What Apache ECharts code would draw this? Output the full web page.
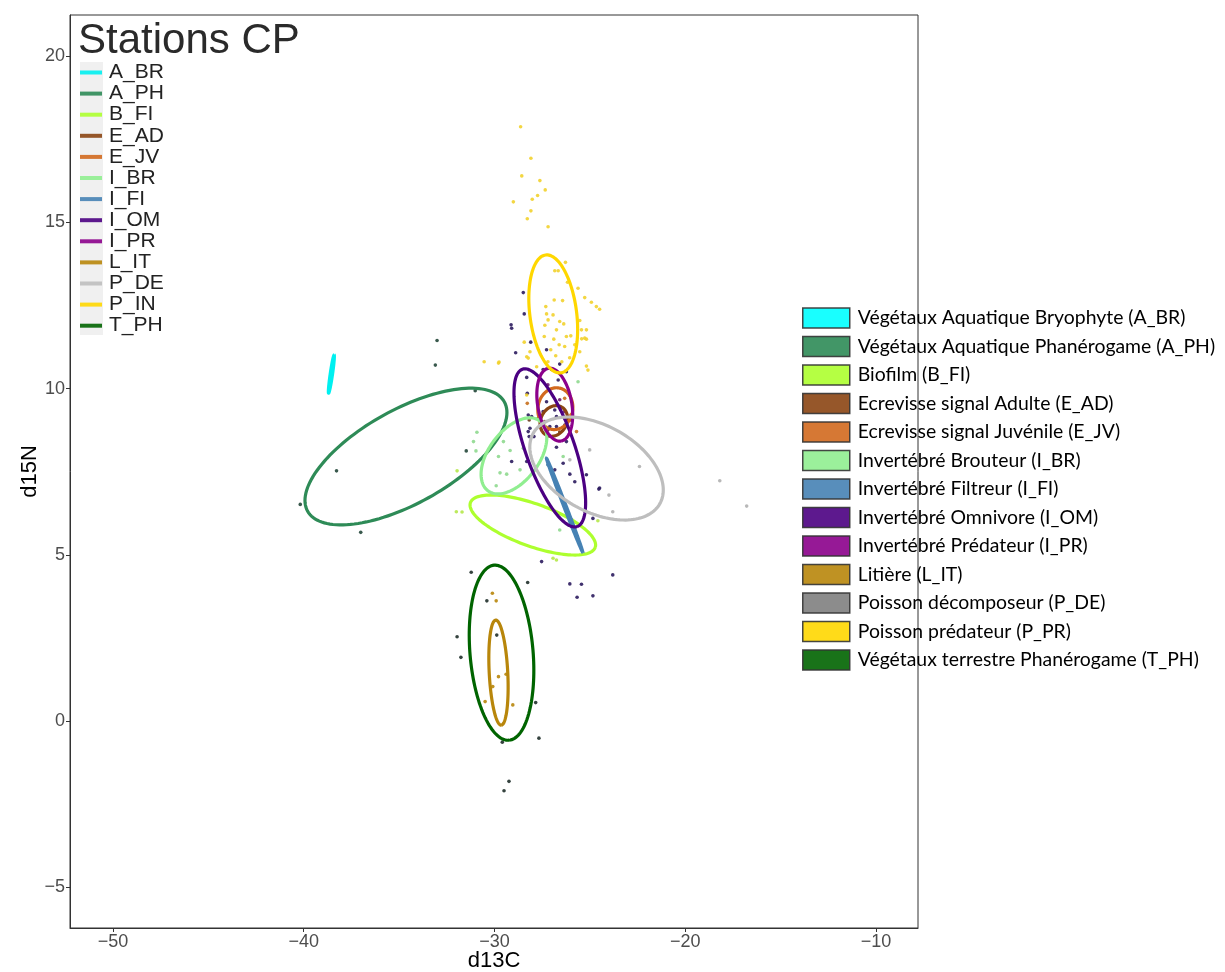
<!DOCTYPE html>
<html><head><meta charset="utf-8">
<script src="https://cdn.jsdelivr.net/npm/echarts@6/dist/echarts.min.js"></script>
<style>html,body{margin:0;padding:0;background:#fff}#c{width:1225px;height:972px}</style>
</head><body><div id="c"></div>
<script>
// ---------- data ----------
const codes = ['A_BR','A_PH','B_FI','E_AD','E_JV','I_BR','I_FI','I_OM','I_PR','L_IT','P_DE','P_IN','T_PH'];
const longLabels = [
  'Végétaux Aquatique Bryophyte (A_BR)',
  'Végétaux Aquatique Phanérogame (A_PH)',
  'Biofilm (B_FI)',
  'Ecrevisse signal Adulte (E_AD)',
  'Ecrevisse signal Juvénile (E_JV)',
  'Invertébré Brouteur (I_BR)',
  'Invertébré Filtreur (I_FI)',
  'Invertébré Omnivore (I_OM)',
  'Invertébré Prédateur (I_PR)',
  'Litière (L_IT)',
  'Poisson décomposeur (P_DE)',
  'Poisson prédateur (P_PR)',
  'Végétaux terrestre Phanérogame (T_PH)'
];
const lineColors  = ['#00F0F0','#2E8B57','#ADFF2F','#8B4513','#D2691E','#90EE90','#4682B4','#4B0082','#8B008B','#B8860B','#BEBEBE','#FFD700','#006400'];
const pointColors = ['#00D0D0','#24473A','#B5E84A','#6B3A1A','#C8701E','#8FD98F','#3A6A94','#2B1B5E','#6A1A6A','#B8860B','#B0B0B0','#F2D22E','#1F2F2A'];
const boxColors   = ['#00FFFF','#2E8B57','#ADFF2F','#8B4513','#D2691E','#90EE90','#4682B4','#4B0082','#8B008B','#B8860B','#808080','#FFD700','#006400'];
const xTicks = [-50,-40,-30,-20,-10];
const yTicks = [-5,0,5,10,15,20];

// standard ellipses (data units): centre, semi-major vector, semi-minor vector
const ellCX = [-38.55,-34.64,-27.99,-26.89,-26.81,-28.98,-26.32,-27.10,-26.84,-29.79,-24.65,-26.92,-29.63];
const ellCY = [ 10.44,  7.96,  5.90,  9.03,  9.40,  7.98,  6.49,  8.22,  9.52,  1.46,  7.60, 12.25,  2.06];
const ellUX = [ 0.146, 5.16,  3.27,  0.417, 0.190, 1.365, 0.955, 1.436, 0.334, 0.144, 3.327, 0.399, 0.391];
const ellUY = [ 0.576, 1.64, -0.674, 0.417, 0.622, 1.049,-1.420,-2.366,-1.093,-1.580,-1.050,-1.772,-2.632];
const ellVX = [ 0.06, -1.18,  0.373,-0.587,-0.899,-1.051, 0.06,  1.211, 0.879, 0.485, 1.082, 1.216, 1.647];
const ellVY = [-0.01,  1.24,  0.600, 0.196, 0.091, 0.455, 0.013, 0.245, 0.089, 0.015, 1.140, 0.091, 0.0815];

// sample points (d13C, d15N)
const pts_A_BR = [[-38.50,10.60],[-38.62,10.20]];
const pts_A_PH = [[-31.01,9.94],[-31.48,8.13],[-38.28,7.53],[-40.18,6.52],[-37.01,5.68],[-33.01,11.45],[-33.10,10.71]];
const pts_B_FI = [[-31.96,7.53],[-32.00,6.30],[-31.70,6.29],[-26.93,4.90],[-26.75,4.85],[-24.58,6.03]];
const pts_E_AD = [[-28.18,9.06],[-27.71,9.11],[-27.20,8.76],[-26.58,8.70],[-27.36,9.01],[-25.98,9.06]];
const pts_E_JV = [[-28.28,9.56],[-26.32,9.71],[-25.70,8.71],[-27.62,9.06],[-26.00,9.21]];
const pts_I_BR = [[-30.92,8.69],[-31.10,8.41],[-30.97,8.13],[-29.79,7.96],[-29.18,8.14],[-29.71,7.47],[-29.36,7.43],[-28.66,7.56],[-29.91,7.08],[-29.53,8.41],[-28.49,8.21],[-26.40,7.96],[-25.62,10.21],[-26.58,5.75]];
const pts_I_FI = [[-27.20,7.71],[-25.95,6.06]];
const pts_I_OM = [[-29.10,11.82],[-28.44,12.25],[-28.89,11.08],[-28.49,12.89],[-29.13,11.92],[-28.10,11.40],[-27.27,11.17],[-26.58,10.74],[-26.23,10.51],[-27.01,10.58],[-27.45,10.58],[-28.31,10.34],[-26.66,10.26],[-28.28,9.86],[-27.27,9.61],[-26.84,9.36],[-26.75,9.16],[-27.45,9.31],[-28.05,9.16],[-28.14,8.81],[-27.93,8.56],[-27.10,8.86],[-26.75,8.86],[-26.31,8.91],[-26.23,8.41],[-26.75,8.24],[-28.23,9.21],[-28.23,8.71],[-28.18,8.56],[-29.10,7.81],[-28.31,7.81],[-26.84,7.56],[-26.05,7.43],[-26.40,7.76],[-25.18,7.41],[-25.79,7.20],[-24.53,6.98],[-24.84,6.10],[-27.53,4.80],[-26.05,4.13],[-25.44,4.12],[-25.67,3.73],[-24.84,3.77],[-23.80,4.40],[-24.49,7.01]];
const pts_I_PR = [[-27.10,9.97],[-26.58,9.67],[-27.20,10.12],[-26.32,9.31]];
const pts_L_IT = [[-30.11,3.85],[-29.91,3.62],[-29.79,1.34],[-29.39,1.41],[-30.49,0.59],[-29.04,0.49],[-30.09,1.04]];
const pts_P_DE = [[-22.40,7.66],[-24.00,6.80],[-23.80,6.30],[-18.19,7.23],[-16.78,6.47],[-26.05,7.86],[-25.01,8.16]];
const pts_P_IN = [[-28.63,17.88],[-28.09,16.93],[-28.57,16.40],[-27.62,16.26],[-27.34,15.98],[-27.74,15.81],[-29.01,15.62],[-28.02,15.70],[-28.09,15.35],[-28.28,15.11],[-27.19,14.87],[-26.28,13.80],[-26.84,13.55],[-26.66,13.55],[-26.17,13.20],[-25.62,13.02],[-25.27,12.74],[-24.92,12.60],[-24.49,12.39],[-26.87,12.67],[-26.43,12.65],[-27.31,12.47],[-27.27,12.25],[-26.93,12.22],[-27.19,12.07],[-26.58,12.02],[-26.37,11.95],[-26.75,11.77],[-25.53,12.05],[-25.44,11.77],[-25.27,11.52],[-25.18,11.77],[-26.23,11.57],[-26.00,11.59],[-26.89,11.49],[-27.39,11.57],[-26.61,11.32],[-26.32,11.27],[-25.43,11.50],[-25.18,11.49],[-25.53,11.11],[-25.18,10.68],[-25.10,10.56],[-24.66,12.47],[-28.44,11.40],[-28.31,10.96],[-28.14,11.11],[-28.23,10.92],[-29.76,10.80],[-27.79,10.66],[-30.54,10.81],[-29.79,10.77],[-28.31,9.81],[-27.36,11.91],[-27.05,11.17],[-26.79,10.99],[-27.20,10.81],[-26.47,10.81],[-26.06,10.93],[-25.79,11.32]];
const pts_T_PH = [[-31.22,4.48],[-28.26,4.17],[-30.40,3.62],[-31.96,2.54],[-31.76,1.92],[-29.88,2.59],[-27.84,0.56],[-27.67,-0.51],[-29.59,-0.63],[-29.24,-1.81],[-29.50,-2.09]];

const pointSets = [pts_A_BR,pts_A_PH,pts_B_FI,pts_E_AD,pts_E_JV,pts_I_BR,pts_I_FI,pts_I_OM,pts_I_PR,pts_L_IT,pts_P_DE,pts_P_IN,pts_T_PH];

// ---------- chart ----------
const chart = echarts.init(document.getElementById('c'), null, {renderer:'canvas'});

function renderEllipse(params, api) {
  const cx = api.value(0), cy = api.value(1), ux = api.value(2), uy = api.value(3), vx = api.value(4), vy = api.value(5);
  const pts = [];
  const n = 140;
  for (let k = 0; k <= n; k++) {
    const t = 2 * Math.PI * k / n;
    pts.push(api.coord([cx + Math.cos(t) * ux + Math.sin(t) * vx, cy + Math.cos(t) * uy + Math.sin(t) * vy]));
  }
  return {type:'polyline', shape:{points:pts}, style:{fill:'none', stroke: api.visual('color'), lineWidth: 3.2}};
}

const series = [];
codes.forEach((c, i) => {
  series.push({
    name: c, type: 'scatter', data: pointSets[i], symbolSize: 3.6, z: 2,
    itemStyle: {color: pointColors[i], opacity: 0.9}, silent: true, animation: false
  });
});
codes.forEach((c, i) => {
  series.push({
    name: c, type: 'custom', renderItem: renderEllipse, z: 3,
    data: [[ellCX[i], ellCY[i], ellUX[i], ellUY[i], ellVX[i], ellVY[i]]],
    encode: {x: 0, y: 1},
    itemStyle: {color: lineColors[i]}, silent: true, animation: false
  });
});

const fmtMinus = v => v < 0 ? '\u2212' + Math.abs(v) : String(v);

chart.setOption({
  backgroundColor: '#fff',
  animation: false,
  title: {text: 'Stations CP', left: 78, top: 20, padding: 0,
    textStyle: {fontFamily: 'Liberation Sans', fontSize: 42, fontWeight: 'normal', color: '#2a2a2a'}},
  graphic: [{type: 'rect', left: 80, top: 62, shape: {width: 23, height: 273}, style: {fill: '#F0F0F0'}, z: -1}],
  grid: {left: 70, right: 307, top: 15, bottom: 44, show: true, borderColor: '#333', borderWidth: 1,
    containLabel: false, outerBoundsMode: 'none'},
  xAxis: {
    type: 'value', min: -52.25, max: -7.8,
    name: 'd13C', nameLocation: 'middle', nameGap: 22, nameMoveOverlap: false,
    nameTextStyle: {fontFamily: 'Liberation Sans', fontSize: 22, color: '#000'},
    splitLine: {show: false},
    axisLine: {show: true, onZero: false, lineStyle: {color: '#333', width: 1}},
    axisTick: {show: true, customValues: xTicks, length: 4, lineStyle: {color: '#333'}},
    axisLabel: {customValues: xTicks, formatter: fmtMinus, color: '#4D4D4D', fontSize: 18, fontFamily: 'Liberation Sans', margin: 5}
  },
  yAxis: {
    type: 'value', min: -6.22, max: 21.24,
    name: 'd15N', nameLocation: 'middle', nameGap: 29, nameRotate: 90, nameMoveOverlap: false,
    nameTextStyle: {fontFamily: 'Liberation Sans', fontSize: 22, color: '#000'},
    splitLine: {show: false},
    axisLine: {show: true, onZero: false, lineStyle: {color: '#333', width: 1}},
    axisTick: {show: true, customValues: yTicks, length: 4, lineStyle: {color: '#333'}},
    axisLabel: {customValues: yTicks, formatter: fmtMinus, color: '#4D4D4D', fontSize: 18, fontFamily: 'Liberation Sans', margin: 5}
  },
  legend: [
    {
      orient: 'vertical', left: 80, top: 62, padding: 0, itemWidth: 22, itemHeight: 4, itemGap: 0.1, icon: 'rect',
      selectedMode: false,
      data: codes.map((c, i) => ({name: c, itemStyle: {color: lineColors[i], borderWidth: 0}})),
      textStyle: {fontFamily: 'Liberation Sans', fontSize: 21, color: '#222', lineHeight: 21, padding: [0,0,0,2]}
    },
    {
      orient: 'vertical', left: 802, top: 305, padding: 0, itemWidth: 47, itemHeight: 20, itemGap: 2.5, icon: 'rect',
      selectedMode: false,
      data: codes.map((c, i) => ({name: c, itemStyle: {color: boxColors[i], borderColor: '#333', borderWidth: 1.5}})),
      formatter: n => longLabels[codes.indexOf(n)],
      textStyle: {fontFamily: 'Lato', fontSize: 19.4, color: '#000', lineHeight: 26, padding: [0,0,0,3]}
    }
  ],
  series: series
});
</script></body></html>
